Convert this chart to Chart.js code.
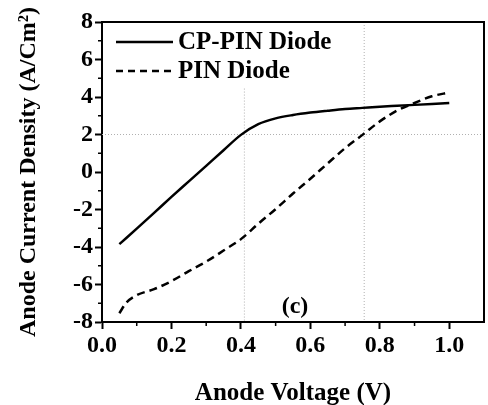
<!DOCTYPE html>
<html>
<head>
<meta charset="utf-8">
<script src="https://cdn.jsdelivr.net/npm/chart.js@4/dist/chart.umd.min.js"></script>
<style>
  body { margin: 0; background: #fff; }
  canvas { display: block; }
</style>
</head>
<body>
<canvas id="ivChart" width="488" height="405"></canvas>
<script>
// values
const voltage = [0.05, 0.07, 0.10, 0.15, 0.20, 0.25, 0.30, 0.35, 0.40, 0.45, 0.50,
                 0.55, 0.60, 0.65, 0.70, 0.75, 0.80, 0.85, 0.90, 0.95, 1.00];
const cpPinDensity = [-3.85, -3.52, -3.02, -2.18, -1.33, -0.50, 0.33, 1.16, 1.98, 2.55, 2.86,
                      3.04, 3.17, 3.27, 3.36, 3.42, 3.48, 3.53, 3.58, 3.63, 3.68];
const pinDensity = [-7.53, -6.97, -6.57, -6.25, -5.82, -5.29, -4.78, -4.19, -3.58, -2.76, -1.98,
                    -1.15, -0.36, 0.46, 1.27, 1.98, 2.70, 3.28, 3.68, 4.04, 4.24];
const seriesNames = ['CP-PIN Diode', 'PIN Diode'];

// dotted guide lines in the figure
const guideA = [{x: 0.41, y: 4.45}, {x: 0.41, y: -8}];
const guideB = [{x: 0.755, y: 8}, {x: 0.755, y: -8}];
const guideC = [{x: 0, y: 2}, {x: 1.1, y: 2}];

const xTicks = [0.0, 0.2, 0.4, 0.6, 0.8, 1.0];
const yTicks = [-8, -6, -4, -2, 0, 2, 4, 6, 8];

const FONT = "'Liberation Serif', 'Times New Roman', serif";

const toPoints = (xs, ys) => xs.map((x, i) => ({x: x, y: ys[i]}));

const guideStyle = {
    borderColor: '#b0b0b0',
    borderWidth: 1,
    borderDash: [1, 2],
    pointRadius: 0,
    order: 5
};

// box, minor ticks, legend and panel label
const extras = {
    id: 'extras',
    afterDatasetsDraw(chart) {
        const {ctx, chartArea: a, scales: {x, y}} = chart;
        ctx.save();
        ctx.strokeStyle = '#000';
        ctx.lineWidth = 2;
        ctx.beginPath();
        ctx.moveTo(a.left, a.top);
        ctx.lineTo(a.right, a.top);
        ctx.lineTo(a.right, a.bottom);
        ctx.stroke();

        ctx.lineWidth = 1.5;
        ctx.beginPath();
        for (let v = -7; v <= 7; v += 2) {
            const py = y.getPixelForValue(v);
            ctx.moveTo(a.left, py);
            ctx.lineTo(a.left - 4, py);
        }
        for (let v = 0.1; v < 1.05; v += 0.2) {
            const px = x.getPixelForValue(v);
            ctx.moveTo(px, a.bottom);
            ctx.lineTo(px, a.bottom + 4);
        }
        ctx.stroke();

        // legend
        ctx.font = 'bold 25px ' + FONT;
        ctx.textBaseline = 'middle';
        ctx.fillStyle = '#000';
        const rows = [42, 71];
        [0, 1].forEach((i) => {
            const ds = chart.data.datasets[i];
            ctx.lineWidth = ds.borderWidth;
            ctx.setLineDash(i === 1 ? [7, 5] : []);
            ctx.beginPath();
            ctx.moveTo(116, rows[i]);
            ctx.lineTo(173, rows[i]);
            ctx.stroke();
            ctx.setLineDash([]);
            ctx.fillText(ds.label, 178, rows[i] + 1);
        });

        ctx.font = 'bold 24px ' + FONT;
        ctx.textAlign = 'center';
        ctx.fillText('(c)', 295, 307);
        ctx.restore();
    }
};

new Chart(document.getElementById('ivChart').getContext('2d'), {
    type: 'line',
    data: {
        datasets: [
            {
                label: seriesNames[0],
                data: toPoints(voltage, cpPinDensity),
                borderColor: '#000',
                borderWidth: 2.5,
                pointRadius: 0,
                cubicInterpolationMode: 'monotone',
                order: 1
            },
            {
                label: seriesNames[1],
                data: toPoints(voltage, pinDensity),
                borderColor: '#000',
                borderWidth: 2.5,
                borderDash: [8, 5],
                pointRadius: 0,
                cubicInterpolationMode: 'monotone',
                order: 2
            },
            Object.assign({label: 'g1', data: guideA}, guideStyle),
            Object.assign({label: 'g2', data: guideB}, guideStyle),
            Object.assign({label: 'g3', data: guideC}, guideStyle)
        ]
    },
    options: {
        responsive: false,
        animation: false,
        layout: { padding: { top: 22, right: 4, left: 0, bottom: 0 } },
        plugins: {
            legend: { display: false },
            tooltip: { enabled: false }
        },
        scales: {
            x: {
                type: 'linear',
                min: 0,
                max: 1.1,
                afterFit: (scale) => { scale.height = 83; },
                afterBuildTicks: (scale) => { scale.ticks = xTicks.map(v => ({value: v})); },
                border: { display: true, color: '#000', width: 2 },
                grid: { display: true, drawOnChartArea: false, drawTicks: true, tickLength: 7, tickWidth: 2, tickColor: '#000' },
                ticks: {
                    padding: 2,
                    color: '#000',
                    maxRotation: 0,
                    font: { family: FONT, size: 24, weight: 'bold' },
                    callback: (v) => Number(v).toFixed(1)
                },
                title: {
                    display: true,
                    text: 'Anode Voltage (V)',
                    color: '#000',
                    padding: { top: 0, bottom: -4 },
                    font: { family: FONT, size: 25, weight: 'bold' }
                }
            },
            y: {
                min: -8,
                max: 8,
                afterFit: (scale) => { scale.width = 102; },
                afterBuildTicks: (scale) => { scale.ticks = yTicks.map(v => ({value: v})); },
                border: { display: true, color: '#000', width: 2 },
                grid: { display: true, drawOnChartArea: false, drawTicks: true, tickLength: 7, tickWidth: 2, tickColor: '#000' },
                ticks: {
                    padding: 2,
                    color: '#000',
                    font: { family: FONT, size: 24, weight: 'bold' }
                },
                title: {
                    display: true,
                    text: 'Anode Current Density (A/Cm²)',
                    color: '#000',
                    padding: { top: 14, bottom: 0 },
                    font: { family: FONT, size: 24, weight: 'bold' }
                }
            }
        }
    },
    plugins: [extras]
});
</script>
</body>
</html>
